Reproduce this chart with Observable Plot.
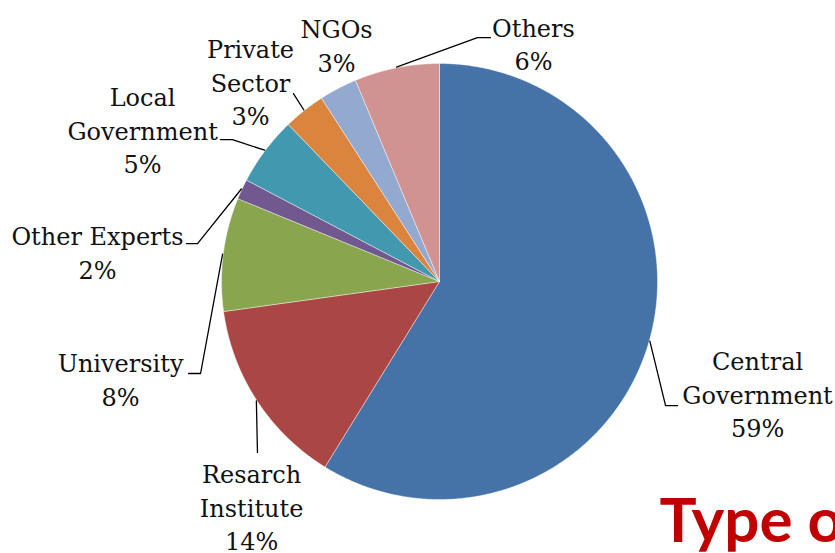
<!DOCTYPE html>
<html>
<head>
<meta charset="utf-8">
<script src="https://cdn.jsdelivr.net/npm/d3@7"></script>
<script src="https://cdn.jsdelivr.net/npm/@observablehq/plot@0.6"></script>
<style>
  html, body { margin: 0; padding: 0; background: #fff; overflow: hidden; }
  #chart svg { display: block; }
</style>
</head>
<body>
<div id="chart"></div>
<script>
// ---- data ----
const categories = ["Central Government", "Resarch Institute", "University", "Other Experts",
                    "Local Government", "Private Sector", "NGOs", "Others"];
const values = [58.8, 14.0, 8.4, 1.5, 5.1, 3.1, 2.8, 6.3];
const labelLines = [["Central", "Government"], ["Resarch", "Institute"], ["University"], ["Other Experts"],
                    ["Local", "Government"], ["Private", "Sector"], ["NGOs"], ["Others"]];
const colors = ["#4572A7", "#AA4643", "#89A54E", "#71588F", "#4198AF", "#DB843D", "#93A9CF", "#D19392"];
const heading = "Type o";

// ---- layout (in pie-radius units, centre at 0,0, y up) ----
const labelPos = [[1.459, -0.523], [-0.862, -1.041], [-1.463, -0.454], [-1.569, 0.128],
                  [-1.362, 0.688], [-0.867, 0.908], [-0.472, 1.078], [0.431, 1.083]];
const leaderKnots = [
  [[1.037, -0.569], [1.092, -0.569]],
  [[-0.835, -0.784]],
  [[-1.096, -0.422], [-1.151, -0.422]],
  [[-1.110, 0.174], [-1.161, 0.174]],
  [[-0.950, 0.651], [-1.005, 0.651]],
  [[-0.670, 0.862]],
  null,
  [[0.174, 1.119], [0.234, 1.119]]
];

const W = 835, H = 553, R = 218, CX = 439, CY = 281;

const arcs = d3.pie().sort(null).value(d => d)(values);
const polar = (a, r) => [r * Math.sin(a), r * Math.cos(a)];

// slice polygons
const slicePts = [];
arcs.forEach((a, i) => {
  const cat = categories[i];
  slicePts.push({cat, x: 0, y: 0});
  const n = Math.max(2, Math.ceil((a.endAngle - a.startAngle) / (Math.PI / 360)));
  for (let k = 0; k <= n; k++) {
    const t = a.startAngle + (a.endAngle - a.startAngle) * k / n;
    const [x, y] = polar(t, 1);
    slicePts.push({cat, x, y});
  }
  slicePts.push({cat, x: 0, y: 0});
});

// labels
const labels = arcs.map((a, i) => ({
  cat: categories[i],
  x: labelPos[i][0], y: labelPos[i][1],
  text: [...labelLines[i], Math.round(values[i]) + "%"].join("\n")
}));

// leader lines
const leaders = [];
arcs.forEach((a, i) => {
  if (!leaderKnots[i]) return;
  const mid = (a.startAngle + a.endAngle) / 2;
  const [sx, sy] = polar(mid, 1.003);
  leaders.push({cat: categories[i], x: sx, y: sy});
  leaderKnots[i].forEach(([x, y]) => leaders.push({cat: categories[i], x, y}));
});

const plot = Plot.plot({
  width: W, height: H,
  margin: 0,
  x: {domain: [-CX / R, (W - CX) / R], axis: null},
  y: {domain: [-(H - CY) / R, CY / R], axis: null},
  color: {domain: categories, range: colors},
  style: {background: "#fff", overflow: "visible"},
  marks: [
    Plot.line(slicePts, {x: "x", y: "y", z: "cat", fill: "cat", stroke: "#fff",
                         strokeWidth: 0.6, strokeOpacity: 0.7, curve: "linear"}),
    Plot.line(leaders, {x: "x", y: "y", z: "cat", stroke: "#000", strokeWidth: 1.3}),
    Plot.text(labels, {x: "x", y: "y", text: "text", fontFamily: "DejaVu Serif", fontSize: 24,
                       lineHeight: 1.4, textAnchor: "middle", lineAnchor: "middle", dy: -2.5, fill: "#111"}),
    Plot.text([heading], {frameAnchor: "bottom-left", text: d => d, dx: 659, dy: -12,
                          textAnchor: "start", lineAnchor: "bottom", fontFamily: "Lato",
                          fontWeight: "bold", fontSize: 62, fill: "#C00000"})
  ]
});
document.getElementById("chart").appendChild(plot);
</script>
</body>
</html>
